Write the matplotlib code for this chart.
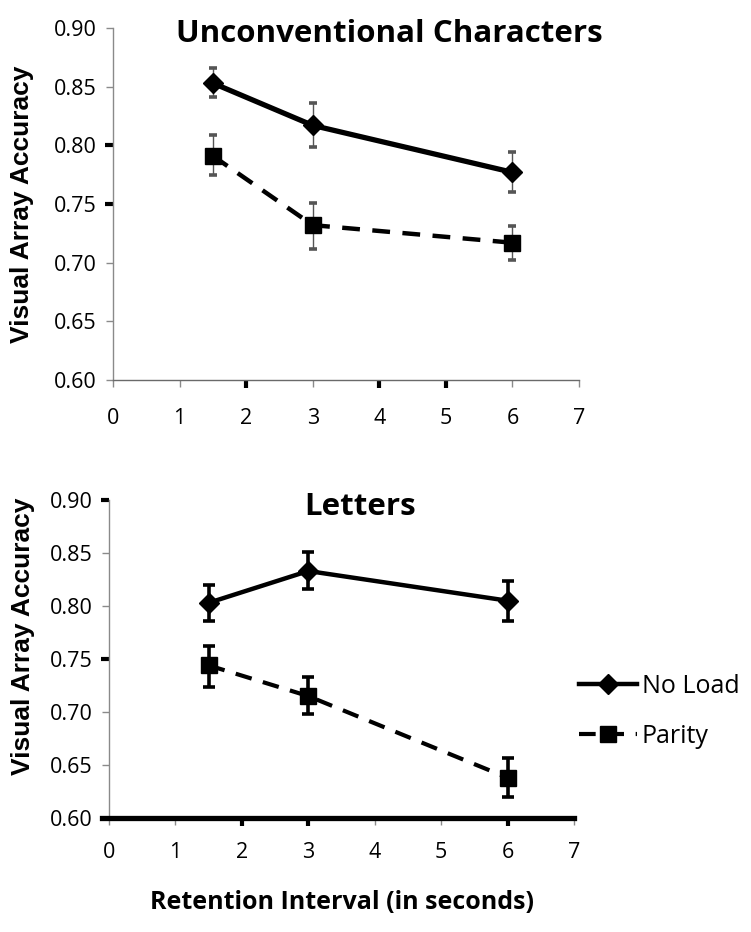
import matplotlib
matplotlib.use('Agg')
import matplotlib.pyplot as plt

plt.rcParams['font.family'] = ['Open Sans', 'DejaVu Sans']

# Data
intervals = [1.5, 3, 6]
series_names = ['No Load', 'Parity']

unconv_noload = [0.853, 0.817, 0.777]
unconv_noload_lo = [0.841, 0.799, 0.760]
unconv_noload_hi = [0.866, 0.836, 0.794]
unconv_parity = [0.791, 0.732, 0.717]
unconv_parity_lo = [0.775, 0.712, 0.702]
unconv_parity_hi = [0.809, 0.751, 0.731]

letters_noload = [0.803, 0.833, 0.805]
letters_noload_lo = [0.786, 0.816, 0.786]
letters_noload_hi = [0.820, 0.851, 0.824]
letters_parity = [0.744, 0.715, 0.638]
letters_parity_lo = [0.724, 0.698, 0.620]
letters_parity_hi = [0.762, 0.733, 0.657]

yticks = [0.60, 0.65, 0.70, 0.75, 0.80, 0.85, 0.90]
xticks = [0, 1, 2, 3, 4, 5, 6, 7]

fig = plt.figure(figsize=(7.51, 9.32), dpi=100)
ax1 = fig.add_axes([113/751, 1 - 380/932, 466/751, 352/932])
ax2 = fig.add_axes([109/751, 1 - 818/932, 465/751, 318/932])


def errs(vals, lo, hi):
    return [[v - l for v, l in zip(vals, lo)], [h - v for v, h in zip(vals, hi)]]


def style_axes(ax, bold_x, bold_y, thick_bottom, xpad):
    ax.set_xlim(0, 7)
    ax.set_ylim(0.60, 0.90)
    ax.xaxis.remove_overlapping_locs = False
    ax.yaxis.remove_overlapping_locs = False
    ax.set_xticks(xticks)
    ax.set_yticks(yticks)
    ax.set_yticklabels([f'{t:.2f}' for t in yticks])
    ax.set_xticks(bold_x, minor=True)
    ax.set_yticks(bold_y, minor=True)
    ax.spines['top'].set_visible(False)
    ax.spines['right'].set_visible(False)
    ax.spines['left'].set_color('#8a8a8a')
    ax.spines['left'].set_linewidth(1)
    if thick_bottom:
        ax.spines['bottom'].set_color('black')
        ax.spines['bottom'].set_linewidth(3.8)
        ax.spines['bottom'].set_bounds(-0.1, 7)
    else:
        ax.spines['bottom'].set_color('#6a6a6a')
        ax.spines['bottom'].set_linewidth(1)
    ax.tick_params(axis='both', which='major', color='#8a8a8a', width=1, length=5,
                   labelsize=15.5, labelcolor='black')
    ax.tick_params(axis='y', which='major', pad=7)
    ax.tick_params(axis='x', which='major', pad=xpad)
    ax.tick_params(axis='both', which='minor', color='black', width=3, length=6,
                   labelbottom=False, labelleft=False)


# Top panel: unconventional characters
for vals, lo, hi in [(unconv_noload, unconv_noload_lo, unconv_noload_hi),
                     (unconv_parity, unconv_parity_lo, unconv_parity_hi)]:
    eb = ax1.errorbar(intervals, vals, yerr=errs(vals, lo, hi), fmt='none', ecolor='#555555',
                      elinewidth=1, capsize=3, capthick=2.6, zorder=2)
    for cap in eb[1]:
        cap.set_color('black')
ax1.plot(intervals, unconv_noload, color='black', lw=3.8, marker='D', ms=10, zorder=3)
ax1.plot(intervals, unconv_parity, color='black', lw=3.2, ls=(0, (4, 2.8)), marker='s', ms=12, zorder=3)
style_axes(ax1, [2, 4, 5], [0.75, 0.80], False, 15)
ax1.text(0.594, 0.982, 'Unconventional Characters', transform=ax1.transAxes,
         ha='center', va='center', fontsize=22.5, fontweight='bold')
ax1.set_ylabel('Visual Array Accuracy', family=['Liberation Sans', 'DejaVu Sans'],
               fontsize=19, fontweight='bold')
ax1.yaxis.set_label_coords(-0.17, 0.5)

# Bottom panel: letters
for vals, lo, hi in [(letters_noload, letters_noload_lo, letters_noload_hi),
                     (letters_parity, letters_parity_lo, letters_parity_hi)]:
    ax2.errorbar(intervals, vals, yerr=errs(vals, lo, hi), fmt='none', ecolor='black',
                 elinewidth=2.6, capsize=4, capthick=2.6, zorder=2)
l1, = ax2.plot(intervals, letters_noload, color='black', lw=3.2, marker='D', ms=10, zorder=3)
l2, = ax2.plot(intervals, letters_parity, color='black', lw=3, ls=(0, (4, 2.8)), marker='s', ms=12, zorder=3)
style_axes(ax2, [2, 3, 6], [0.75, 0.90], True, 12)
ax2.text(0.54, 0.978, 'Letters', transform=ax2.transAxes,
         ha='center', va='center', fontsize=22.5, fontweight='bold')
ax2.set_ylabel('Visual Array Accuracy', family=['Liberation Sans', 'DejaVu Sans'],
               fontsize=19, fontweight='bold')
ax2.yaxis.set_label_coords(-0.16, 0.57)
ax2.set_xlabel('Retention Interval (in seconds)', fontsize=18, fontweight='bold', labelpad=20)

fig.legend([l1, l2], series_names, loc='center left', bbox_to_anchor=(579/751, 0.237),
           frameon=False, fontsize=18, handlelength=2.3, handletextpad=0.2, labelspacing=1.0,
           borderpad=0, borderaxespad=0)

fig.savefig('out.png', dpi=100)
